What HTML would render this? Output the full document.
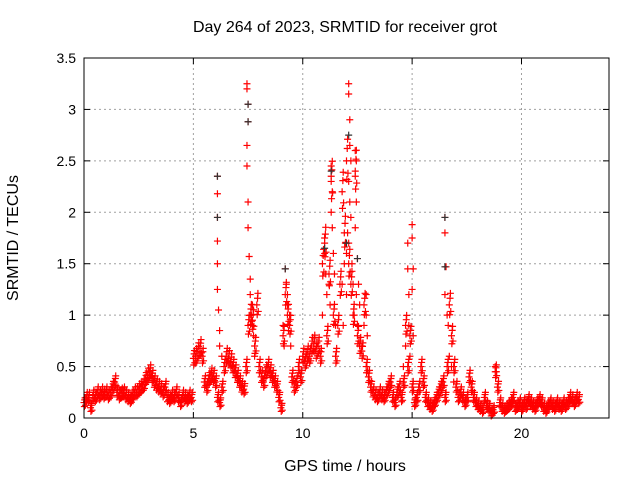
<!DOCTYPE html>
<html><head><meta charset="utf-8"><style>
body{margin:0;background:#fff;font-family:"Liberation Sans",sans-serif}
svg text{font-family:"Liberation Sans",sans-serif;font-size:14px;fill:#000}
svg text.big{font-size:16px}
</style></head><body>
<svg id="c" width="640" height="480" xmlns="http://www.w3.org/2000/svg"></svg>
<script>
const baseStart = 0, baseStep = 0.1;
const baseValues = [
0.15,0.2,0.2,0.1,0.22,0.2,0.25,0.22,0.25,0.23,
0.25,0.22,0.25,0.3,0.35,0.25,0.22,0.24,0.25,0.22,
0.2,0.18,0.22,0.25,0.25,0.28,0.3,0.32,0.38,0.42,
0.45,0.4,0.35,0.32,0.3,0.28,0.25,0.3,0.2,0.18,
0.22,0.2,0.25,0.2,0.15,0.22,0.2,0.18,0.22,0.2,
0.58,0.6,0.65,0.68,0.6,0.35,0.3,0.38,0.42,0.4,
0.35,0.2,0.15,0.3,0.5,0.6,0.58,0.55,0.5,0.45,
0.4,0.35,0.3,0.28,0.5,0.9,1.0,0.95,0.7,1.1,
0.5,0.4,0.35,0.45,0.5,0.45,0.4,0.35,0.3,0.2,
0.1,0.8,1.2,1.0,0.9,0.4,0.3,0.35,0.5,0.4,
0.6,0.55,0.62,0.6,0.7,0.72,0.65,0.7,0.6,1.5,
1.7,0.8,1.4,2.3,1.0,0.6,0.9,1.3,2.2,1.8,
2.5,1.5,1.3,1.0,2.4,0.8,0.7,0.65,1.1,0.5,
0.4,0.3,0.25,0.22,0.2,0.25,0.22,0.2,0.25,0.3,
0.35,0.2,0.15,0.25,0.3,0.2,0.35,0.9,0.5,0.8,
0.3,0.15,0.2,0.3,0.5,0.35,0.2,0.15,0.12,0.1,
0.15,0.2,0.25,0.3,0.35,0.2,0.5,1.1,0.8,0.5,
0.3,0.2,0.25,0.2,0.15,0.2,0.4,0.3,0.2,0.15,
0.12,0.1,0.08,0.2,0.12,0.1,0.05,0.08,0.45,0.3,
0.15,0.1,0.08,0.1,0.12,0.15,0.2,0.1,0.12,0.15,
0.1,0.15,0.12,0.18,0.15,0.12,0.1,0.15,0.18,0.15,
0.1,0.08,0.12,0.15,0.12,0.1,0.15,0.12,0.1,0.15,
0.12,0.15,0.2,0.18,0.15,0.2,0.18];
const spikeTimes = [6.1,6.1,6.1,6.1,6.1,6.1,6.15,6.2,6.2,6.3,
7.45,7.45,7.5,7.5,7.45,7.45,7.5,7.5,7.55,7.6,7.6,7.65,7.7,7.7,7.75,7.8,
9.2,9.25,9.3,9.35,9.1,9.15,9.3,9.4,9.45,
10.9,11.0,11.0,11.05,11.1,11.3,11.3,11.35,11.3,11.35,11.4,11.2,11.25,11.45,11.5,
11.8,11.9,11.95,12.0,12.05,12.1,12.1,12.15,12.15,12.2,12.1,12.15,12.2,12.1,12.25,12.3,12.0,11.85,
12.4,12.45,12.4,12.45,12.4,12.5,12.45,12.55,12.6,12.5,12.35,
12.7,12.8,12.9,12.9,12.95,
14.6,14.7,14.8,14.8,14.85,14.85,15.0,15.0,15.05,15.0,15.05,14.9,
16.5,16.5,16.55,16.5,16.6,16.65,16.7,16.8,16.9,18.8,18.85];
const spikeValues = [2.35,2.18,1.95,1.72,1.5,1.25,1.05,0.85,0.7,0.6,
3.25,3.2,3.05,2.88,2.65,2.45,2.1,1.85,1.57,1.35,1.2,1.0,0.9,1.1,0.8,0.6,
1.45,1.3,1.1,0.85,0.9,0.7,1.2,1.0,0.7,
1.0,1.75,1.6,1.4,1.2,2.45,2.35,2.2,2.0,1.85,1.6,1.3,1.1,1.4,0.9,
1.3,1.5,1.7,1.6,1.8,3.25,3.15,2.9,2.65,2.5,2.3,2.1,1.95,1.7,1.5,1.3,1.2,0.9,
2.6,2.5,2.35,2.1,1.85,1.55,1.2,1.3,1.1,0.9,1.0,
0.7,0.9,1.2,1.0,0.8,
0.5,0.7,1.7,1.45,1.2,0.9,1.88,1.75,1.45,1.25,0.8,0.6,
1.95,1.8,1.47,1.2,1.0,0.9,0.6,0.5,0.35,0.5,0.45];
const blackTimes = [6.1,6.1,7.5,7.5,12.1,11.3,12.5,9.2,16.5,16.5,12.0,11.0];
const blackValues = [2.35,1.95,2.88,3.05,2.75,2.4,1.55,1.45,1.95,1.47,1.7,1.65];
const xTicks = [0,5,10,15,20];
const yTicks = [0,0.5,1,1.5,2,2.5,3,3.5];
const yTickLabels = ["0","0.5","1","1.5","2","2.5","3","3.5"];

const NS="http://www.w3.org/2000/svg", svg=document.getElementById('c');
const L=84,R=609,T=58,B=418, xMax=24, yMax=3.5;
const X=v=>L+(R-L)*v/xMax, Y=v=>B-(B-T)*v/yMax;
function mk(tag,a,p){const e=document.createElementNS(NS,tag);for(const k in a)e.setAttribute(k,a[k]);(p||svg).appendChild(e);return e;}
const grid=mk('g',{});


xTicks.forEach(t=>{if(t>0)mk('line',{x1:X(t),x2:X(t),y1:T,y2:B,stroke:'#a0a0a0','stroke-dasharray':'2,3'},grid);
 mk('line',{x1:X(t),x2:X(t),y1:B,y2:B-6,stroke:'#000'},grid);mk('line',{x1:X(t),x2:X(t),y1:T,y2:T+6,stroke:'#000'},grid);
 const tx=mk('text',{x:X(t),y:B+20,'text-anchor':'middle'});tx.textContent=t;
 
 });
yTicks.forEach((t,i)=>{if(t>0&&t<yMax)mk('line',{x1:L,x2:R,y1:Y(t),y2:Y(t),stroke:'#a0a0a0','stroke-dasharray':'2,3'},grid);
 mk('line',{x1:L,x2:L+6,y1:Y(t),y2:Y(t),stroke:'#000'},grid);mk('line',{x1:R,x2:R-6,y1:Y(t),y2:Y(t),stroke:'#000'},grid);
 const tx=mk('text',{x:L-8,y:Y(t)+5,'text-anchor':'end'});tx.textContent=yTickLabels[i];
 
 });
function cross(g,x,y,c){mk('path',{d:`M${x-3.5} ${y}h7M${x} ${y-3.5}v7`,stroke:c,'stroke-width':1.2},g);}
const rg=mk('g',{});


// each sample drawn as a small band of crosses to mimic the dense 30s sampling
const offs=[[0,0],[0.033,0.04],[0.066,-0.04],[0.05,0.07],[0.017,-0.06]];
baseValues.forEach((v,i)=>{const t=baseStart+i*baseStep;offs.forEach(o=>cross(rg,X(t+o[0]),Y(Math.max(0.02,v+o[1]*(0.5+v))),'#f00'));});
spikeTimes.forEach((t,i)=>cross(rg,X(t),Y(spikeValues[i]),'#f00'));
blackTimes.forEach((t,i)=>cross(rg,X(t),Y(blackValues[i]),'#333'));
const fr=mk('rect',{x:L,y:T,width:R-L,height:B-T,fill:'none',stroke:'#000'});


const ti=mk('text',{x:345,y:32,'text-anchor':'middle',class:'big'});ti.textContent='Day 264 of 2023, SRMTID for receiver grot';


const xl=mk('text',{x:345,y:471,'text-anchor':'middle',class:'big'});xl.textContent='GPS time / hours';


const yl=mk('text',{x:18,y:238,'text-anchor':'middle',class:'big',transform:'rotate(-90 18 238)'});yl.textContent='SRMTID / TECUs';


</script>
</body></html>
